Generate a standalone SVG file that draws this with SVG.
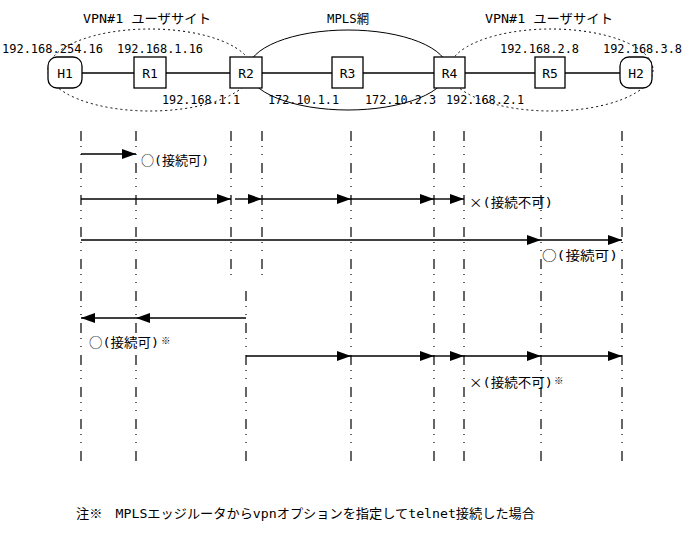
<svg xmlns="http://www.w3.org/2000/svg" width="693" height="540" viewBox="0 0 693 540">
<style>
.t{font-family:"DejaVu Sans Mono","Noto Sans CJK JP",monospace;font-size:13px;fill:#000}
.j{font-family:"Noto Sans CJK JP",sans-serif}
.s{font-family:"Noto Sans CJK JP",sans-serif;font-size:9.5px;fill:#000}
.box{fill:#fff;stroke:#000;stroke-width:1.3}
.link{stroke:#000;stroke-width:1.3;fill:none}
.zone{fill:none;stroke:#000;stroke-width:1;stroke-dasharray:2 3}
.mpls{fill:none;stroke:#000;stroke-width:1}
.life{stroke:#000;stroke-width:1.2;stroke-dasharray:10 5 1 7 1 8;fill:none}
.msg{stroke:#000;stroke-width:1.4;fill:none;marker-end:url(#ah)}
</style>
<defs>
<marker id="ah" markerUnits="userSpaceOnUse" markerWidth="16" markerHeight="12" refX="14" refY="5" orient="auto">
<path d="M0,0 L14,5 L0,10 z" fill="#000"/>
</marker>
</defs>
<rect width="693" height="540" fill="#fff"/>

<g id="zones">
<ellipse class="zone" cx="150" cy="70" rx="102" ry="41"/>
<ellipse class="mpls" cx="348" cy="70" rx="100" ry="40"/>
<ellipse class="zone" cx="551" cy="70" rx="102" ry="41"/>
<text class="t" x="83" y="23" textLength="128" lengthAdjust="spacingAndGlyphs">VPN#1 ユーザサイト</text>
<text class="t" x="327" y="23" textLength="42" lengthAdjust="spacingAndGlyphs">MPLS網</text>
<text class="t" x="485" y="23" textLength="128" lengthAdjust="spacingAndGlyphs">VPN#1 ユーザサイト</text>
</g>

<g id="links">
<line class="link" x1="82" y1="73" x2="134" y2="73"/>
<line class="link" x1="166" y1="73" x2="230" y2="73"/>
<line class="link" x1="262" y1="73" x2="332" y2="73"/>
<line class="link" x1="363" y1="73" x2="434" y2="73"/>
<line class="link" x1="465" y1="73" x2="535" y2="73"/>
<line class="link" x1="565" y1="73" x2="620" y2="73"/>
</g>

<g id="H1"><rect class="box" x="48" y="57" width="34" height="31" rx="9"/><text class="t" x="65" y="78" text-anchor="middle">H1</text></g>
<g id="R1"><rect class="box" x="134" y="57" width="32" height="31"/><text class="t" x="150" y="78" text-anchor="middle">R1</text></g>
<g id="R2"><rect class="box" x="230" y="57" width="32" height="31"/><text class="t" x="246" y="78" text-anchor="middle">R2</text></g>
<g id="R3"><rect class="box" x="332" y="57" width="31" height="31"/><text class="t" x="347.5" y="78" text-anchor="middle">R3</text></g>
<g id="R4"><rect class="box" x="434" y="57" width="31" height="31"/><text class="t" x="449.5" y="78" text-anchor="middle">R4</text></g>
<g id="R5"><rect class="box" x="535" y="57" width="30" height="31"/><text class="t" x="550" y="78" text-anchor="middle">R5</text></g>
<g id="H2"><rect class="box" x="620" y="57" width="32" height="31" rx="9"/><text class="t" x="636" y="78" text-anchor="middle">H2</text></g>

<g id="addresses">
<text class="t" x="2" y="53" textLength="101" lengthAdjust="spacingAndGlyphs">192.168.254.16</text>
<text class="t" x="117" y="53" textLength="86" lengthAdjust="spacingAndGlyphs">192.168.1.16</text>
<text class="t" x="162" y="104" textLength="78" lengthAdjust="spacingAndGlyphs">192.168.1.1</text>
<text class="t" x="268" y="104" textLength="71" lengthAdjust="spacingAndGlyphs">172.10.1.1</text>
<text class="t" x="365" y="104" textLength="71" lengthAdjust="spacingAndGlyphs">172.10.2.3</text>
<text class="t" x="446" y="104" textLength="78" lengthAdjust="spacingAndGlyphs">192.168.2.1</text>
<text class="t" x="500" y="53" textLength="79" lengthAdjust="spacingAndGlyphs">192.168.2.8</text>
<text class="t" x="603" y="53" textLength="79" lengthAdjust="spacingAndGlyphs">192.168.3.8</text>
</g>

<g id="lifelines">
<line class="life" x1="81" y1="131" x2="81" y2="461"/>
<line class="life" x1="136" y1="131" x2="136" y2="461"/>
<line class="life" x1="231" y1="131" x2="231" y2="275"/>
<line class="life" x1="262" y1="131" x2="262" y2="275"/>
<line class="life" x1="246" y1="291" x2="246" y2="461"/>
<line class="life" x1="351" y1="131" x2="351" y2="461"/>
<line class="life" x1="434" y1="131" x2="434" y2="461"/>
<line class="life" x1="464" y1="131" x2="464" y2="461"/>
<line class="life" x1="541" y1="131" x2="541" y2="461"/>
<line class="life" x1="622" y1="131" x2="622" y2="461"/>
</g>

<g id="messages">
<line class="msg" x1="81" y1="154" x2="136" y2="154"/>

<line class="msg" x1="81" y1="199" x2="231" y2="199"/>
<line class="msg" x1="235" y1="199" x2="262" y2="199"/>
<line class="msg" x1="262" y1="199" x2="351" y2="199"/>
<line class="msg" x1="351" y1="199" x2="434" y2="199"/>
<line class="msg" x1="434" y1="199" x2="464" y2="199"/>

<line class="msg" x1="81" y1="240" x2="541" y2="240"/>
<line class="msg" x1="541" y1="240" x2="622" y2="240"/>

<line class="msg" x1="246" y1="318" x2="136" y2="318"/>
<line class="msg" x1="136" y1="318" x2="81" y2="318"/>

<line class="msg" x1="246" y1="356" x2="351" y2="356"/>
<line class="msg" x1="351" y1="356" x2="434" y2="356"/>
<line class="msg" x1="434" y1="356" x2="464" y2="356"/>
<line class="msg" x1="464" y1="356" x2="541" y2="356"/>
<line class="msg" x1="541" y1="356" x2="622" y2="356"/>
</g>

<g id="results">
<text class="t" x="141" y="165" textLength="68" lengthAdjust="spacingAndGlyphs"><tspan class="j">○</tspan>(接続可)</text>
<text class="t" x="469" y="207" textLength="84" lengthAdjust="spacingAndGlyphs"><tspan class="j">×</tspan>(接続不可)</text>
<text class="t" x="542" y="260" textLength="76" lengthAdjust="spacingAndGlyphs"><tspan class="j">○</tspan>(接続可)</text>
<text class="t" x="89" y="347" textLength="70" lengthAdjust="spacingAndGlyphs"><tspan class="j">○</tspan>(接続可)</text>
<text class="s" x="161" y="344">※</text>
<text class="t" x="469" y="387" textLength="84" lengthAdjust="spacingAndGlyphs"><tspan class="j">×</tspan>(接続不可)</text>
<text class="s" x="554" y="384">※</text>
</g>

<text class="t" x="76" y="518" textLength="459" lengthAdjust="spacingAndGlyphs">注※　MPLSエッジルータからvpnオプションを指定してtelnet接続した場合</text>
</svg>
